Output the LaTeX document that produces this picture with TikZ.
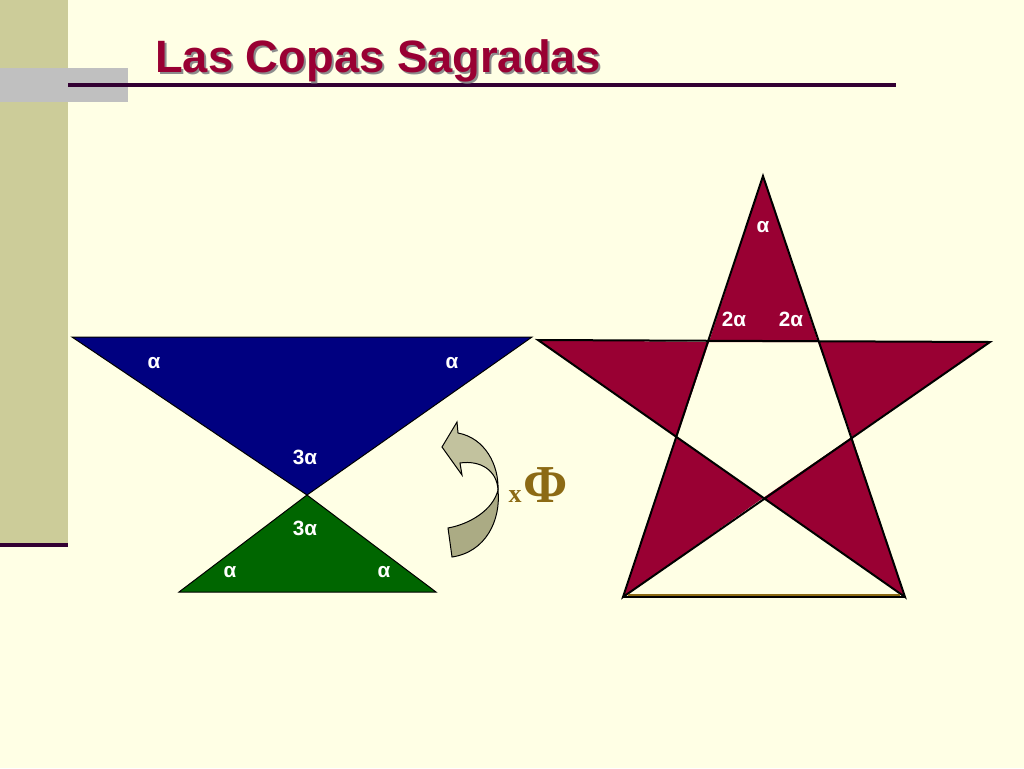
\documentclass[tikz,border=0pt]{standalone}
\usepackage{fontspec}
\setmainfont{Liberation Sans}
\newfontfamily\phifont{Liberation Serif}
\usepackage{xcolor}
\usepackage{tikz}
\usetikzlibrary{calc}
\definecolor{paper}{HTML}{FFFFE5}
\definecolor{sidebar}{HTML}{CCCC99}
\definecolor{tabgray}{HTML}{C0C0C0}
\definecolor{rulecol}{HTML}{330033}
\definecolor{wine}{HTML}{990033}
\definecolor{cupblue}{HTML}{000080}
\definecolor{cupgreen}{HTML}{006600}
\definecolor{arrowlight}{HTML}{C2C29E}
\definecolor{arrowdark}{HTML}{ABAB84}
\definecolor{phigold}{HTML}{8C6A14}
\newcommand{\angmark}[3]{\node [angmark] (#1) at (#2) {#3};}

\begin{document}
\begin{tikzpicture}[x=0.75pt,y=-0.75pt,
    angmark/.style={text=white,inner sep=0pt,anchor=base,
      font=\bfseries\fontsize{15.5}{18}\selectfont},
    cup/.style={draw=black,line width=0.75pt,line join=miter},
    starline/.style={draw=black,line width=1.5pt,line join=miter}]
    \fill[paper] (0,0) rectangle (1024,768);
    \useasboundingbox (0,0) rectangle (1024,768);

    % slide frame
    \fill[sidebar] (0,0) rectangle (68,545);
    \draw[rulecol,line width=3pt] (0,545) -- (68,545);
    \fill[tabgray] (0,68) rectangle (128,102);
    \draw[rulecol,line width=3pt] (68,85) -- (896,85);
    \node[anchor=base west,inner sep=0pt,text=black!45,
      font=\bfseries\fontsize{34}{40}\selectfont] (shadow) at (157,74) {Las Copas Sagradas};
    \node[anchor=base west,inner sep=0pt,text=wine,
      font=\bfseries\fontsize{34}{40}\selectfont] (title) at (155,72) {Las Copas Sagradas};

    % the two cups
    \coordinate (b1) at (72,337);
    \coordinate (b2) at (532,337);
    \coordinate (m) at (307,495);
    \coordinate (g1) at (179,592);
    \coordinate (g2) at (436,592);
    \filldraw[cup,fill=cupblue] (b1) -- (b2) -- (m) -- cycle;
    \filldraw[cup,fill=cupgreen] (m) -- (g2) -- (g1) -- cycle;
    \angmark{bl}{154,368}{α}
    \angmark{br}{452,368}{α}
    \angmark{bm}{305,464}{3α}
    \angmark{gm}{305,535}{3α}
    \angmark{gl}{230,577}{α}
    \angmark{gr}{384,577}{α}

    % turning arrow
    \coordinate (t) at (498,490);
    \filldraw[draw=black,line width=0.75pt,fill=arrowdark]
      (448,528) .. controls (470,524) and (493,510) .. (t)
      .. controls (501,520) and (486,552) .. (452,557) -- cycle;
    \filldraw[draw=black,line width=0.75pt,fill=arrowlight,line join=miter]
      (t) .. controls (497,470) and (480,460) .. (460,463)
      -- (462,475) -- (442,447) -- (457,422) -- (458,433)
      .. controls (485,438) and (499,465) .. (t);
    \node[anchor=base,inner sep=0pt,text=phigold,
      font=\phifont\bfseries\fontsize{19.5}{22}\selectfont] (times) at (515,502) {x};
    \node[anchor=base,inner sep=0pt,text=phigold,
      font=\phifont\bfseries\fontsize{40}{44}\selectfont] (phi) at (546,502) {Φ};

    % pentagram
    \coordinate (top) at (763,176);
    \coordinate (left) at (538,340);
    \coordinate (right) at (990,342);
    \coordinate (bl) at (623,597);
    \coordinate (br) at (905,597);
    \coordinate (i1) at (709,342);
    \coordinate (i2) at (818,342);
    \coordinate (i3) at (852,437);
    \coordinate (i4) at (763,498);
    \coordinate (i5) at (677,437);
    \fill[wine] (top) -- (i2) -- (i1) -- cycle;
    \fill[wine] (left) -- (i1) -- (i5) -- cycle;
    \fill[wine] (right) -- (i3) -- (i2) -- cycle;
    \fill[wine] (bl) -- (i5) -- (i4) -- cycle;
    \fill[wine] (br) -- (i4) -- (i3) -- cycle;
    \draw[starline] (top) -- (bl) -- (right) -- (left) -- (br) -- cycle;
    \draw[line width=1.5pt] (bl) -- (br);
    \draw[phigold,line width=1pt] ($(bl)+(5,-2)$) -- ($(br)+(-5,-2)$);
    \angmark{sa}{763,232}{α}
    \angmark{sb}{734,326}{2α}
    \angmark{sc}{791,326}{2α}
  \end{tikzpicture}
\end{document}
